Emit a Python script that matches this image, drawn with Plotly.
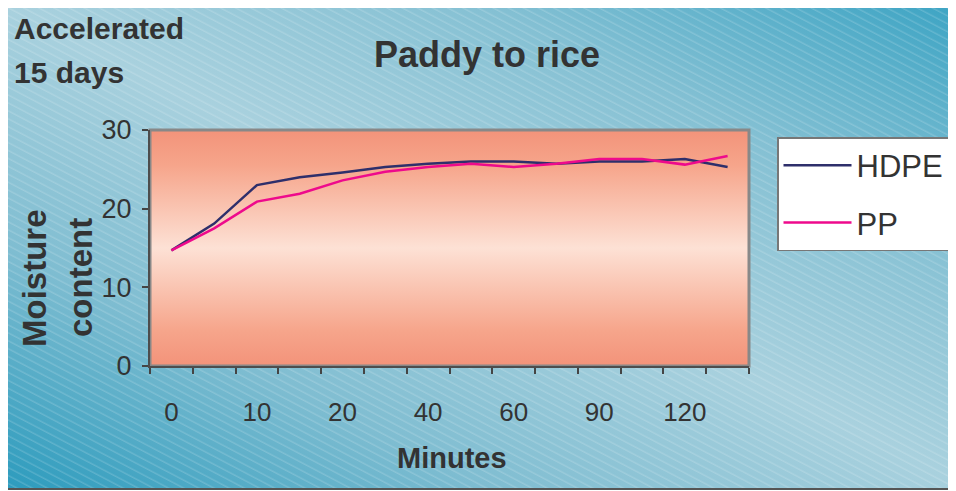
"""
Moisture content of paddy to rice under accelerated storage (15 days).
"""

import base64
import plotly.graph_objects as go

minutes = ["0", "5", "10", "15", "20", "30", "40", "50", "60", "75", "90", "105", "120", "135"]
hdpe = [14.7, 18.1, 23.0, 24.0, 24.6, 25.3, 25.7, 26.0, 26.0, 25.7, 26.0, 26.0, 26.3, 25.3]
pp = [14.7, 17.5, 20.9, 21.9, 23.6, 24.7, 25.3, 25.7, 25.3, 25.7, 26.3, 26.3, 25.6, 26.7]
tick_text = [m if i % 2 == 0 else "" for i, m in enumerate(minutes)]

W, H = 956, 491
OFF = 8  # the page body margin shifts the figure by this much
# plot area in page pixels: x 150..749, y 130..366
L, T = 150 - OFF, 130 - OFF
R, B = W - (749 - OFF), H - (366 - OFF)
pw, ph = W - L - R, H - T - B

FONT = "Liberation Sans, Arial, sans-serif"
TXT = "#333333"


def svg_uri(svg):
    return "data:image/svg+xml;base64," + base64.b64encode(svg.encode()).decode()


def px(x):
    return (x - OFF - L) / pw


def py(y):
    return (T + ph - (y - OFF)) / ph


# blue striped backdrop of the whole chart
bg_svg = """<svg xmlns='http://www.w3.org/2000/svg' width='953' height='483' viewBox='0 0 953 483' preserveAspectRatio='none'>
<defs>
<linearGradient id='g' x1='0' y1='1' x2='1' y2='0'>
<stop offset='0' stop-color='#2c9bbd'/>
<stop offset='0.25' stop-color='#7fbdd1'/>
<stop offset='0.5' stop-color='#a9d1de'/>
<stop offset='0.75' stop-color='#84c0d3'/>
<stop offset='1' stop-color='#3aa3c3'/>
</linearGradient>
<pattern id='p' width='7' height='7' patternUnits='userSpaceOnUse' patternTransform='rotate(28)'>
<line x1='0' y1='1' x2='7' y2='1' stroke='white' stroke-width='1' stroke-opacity='0.22'/>
</pattern>
</defs>
<rect width='953' height='483' fill='url(#g)'/>
<rect width='953' height='483' fill='url(#p)'/>
</svg>"""

# salmon band gradient of the plot area
plot_svg = """<svg xmlns='http://www.w3.org/2000/svg' width='600' height='236' viewBox='0 0 600 236' preserveAspectRatio='none'>
<defs>
<linearGradient id='s' x1='0' y1='0' x2='0' y2='1'>
<stop offset='0' stop-color='#f3937a'/>
<stop offset='0.15' stop-color='#f6a58b'/>
<stop offset='0.5' stop-color='#fde1d5'/>
<stop offset='0.85' stop-color='#f6a58b'/>
<stop offset='1' stop-color='#f3937a'/>
</linearGradient>
</defs>
<rect width='600' height='236' fill='url(#s)'/>
</svg>"""

fig = go.Figure()
fig.add_trace(go.Scatter(x=minutes, y=hdpe, name="HDPE", mode="lines",
                         line=dict(color="#2e2f6b", width=2.5), legendgroup="a"))
fig.add_trace(go.Scatter(x=minutes, y=pp, name="PP", mode="lines",
                         line=dict(color="#ee0a8c", width=2.5), legendgroup="b"))

# paper coordinates of the chart frame
fx0, fx1 = px(7), px(975)
fy0, fy1 = py(489), py(6)

fig.update_layout(
    width=W, height=H,
    margin=dict(l=L, r=R, t=T, b=B, autoexpand=False),
    paper_bgcolor="white",
    plot_bgcolor="rgba(0,0,0,0)",
    font=dict(family=FONT, color=TXT),
    showlegend=True,
    images=[
        dict(source=svg_uri(bg_svg), xref="paper", yref="paper", x=fx0, y=fy1,
             sizex=fx1 - fx0, sizey=fy1 - fy0, sizing="stretch", layer="below",
             xanchor="left", yanchor="top"),
        dict(source=svg_uri(plot_svg), xref="paper", yref="paper", x=0, y=1,
             sizex=1, sizey=1, sizing="stretch", layer="below",
             xanchor="left", yanchor="top"),
    ],
    shapes=[
        dict(type="rect", xref="paper", yref="paper", x0=fx0, x1=fx1, y0=fy0, y1=fy1,
             line=dict(color="#555555", width=2), layer="below"),
        dict(type="rect", xref="paper", yref="paper", x0=0, x1=1, y0=0, y1=1,
             line=dict(color="#888888", width=3), layer="below"),
    ],
    xaxis=dict(
        type="category", categoryorder="array", categoryarray=minutes,
        range=[-0.5, len(minutes) - 0.5], automargin=False,
        tickvals=minutes, ticktext=tick_text, tickson="boundaries", tickangle=0,
        ticks="outside", ticklen=6, tickwidth=1.5, tickcolor="#444444",
        showline=True, linecolor="#4d4d4d", linewidth=2, showgrid=False,
        tickfont=dict(size=26, color=TXT), ticklabelstandoff=22,
    ),
    yaxis=dict(
        range=[0, 30], tickvals=[0, 10, 20, 30], automargin=False,
        ticks="outside", ticklen=6, tickwidth=1.5, tickcolor="#444444",
        showline=True, linecolor="#4d4d4d", linewidth=2, showgrid=False, zeroline=False,
        tickfont=dict(size=27, color=TXT), ticklabelstandoff=5,
    ),
    legend=dict(
        x=px(777), y=py(137), xanchor="left", yanchor="top",
        bgcolor="white", bordercolor="#777777", borderwidth=1.5,
        font=dict(size=31, color=TXT), tracegroupgap=14,
        itemwidth=68,
    ),
    annotations=[
        dict(text="<b>Paddy to rice</b>", xref="paper", yref="paper",
             x=px(487), y=py(55), showarrow=False,
             font=dict(size=36, color=TXT), xanchor="center", yanchor="middle"),
        dict(text="<b>Accelerated</b>", xref="paper", yref="paper",
             x=px(12), y=py(28), showarrow=False,
             font=dict(size=30, color=TXT), xanchor="left", yanchor="middle"),
        dict(text="<b>15 days</b>", xref="paper", yref="paper",
             x=px(12), y=py(72), showarrow=False,
             font=dict(size=30, color=TXT), xanchor="left", yanchor="middle"),
        dict(text="<b>Minutes</b>", xref="paper", yref="paper",
             x=px(452), y=py(458), showarrow=False,
             font=dict(size=29, color=TXT), xanchor="center", yanchor="middle"),
        dict(text="<b>Moisture</b>", xref="paper", yref="paper", textangle=-90,
             x=px(34), y=py(278), showarrow=False,
             font=dict(size=33, color=TXT), xanchor="center", yanchor="middle"),
        dict(text="<b>content</b>", xref="paper", yref="paper", textangle=-90,
             x=px(80), y=py(278), showarrow=False,
             font=dict(size=33, color=TXT), xanchor="center", yanchor="middle"),
    ],
)

fig.write_html("out.html")
